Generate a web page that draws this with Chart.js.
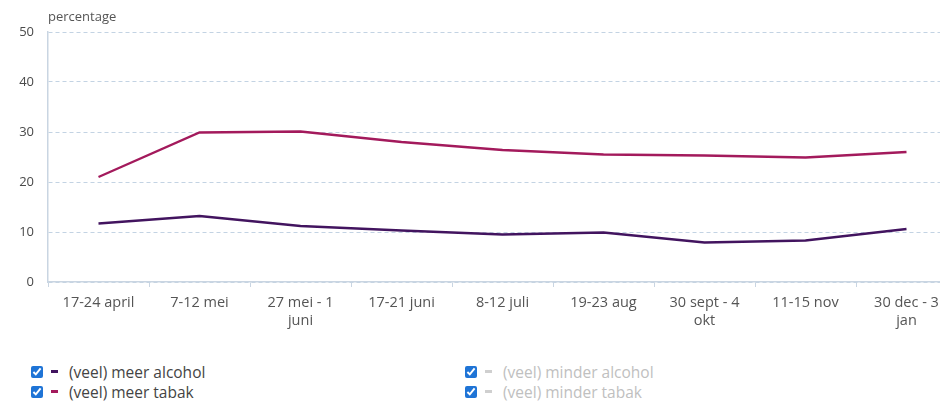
<!DOCTYPE html>
<html>
<head>
<meta charset="utf-8">
<script src="https://cdn.jsdelivr.net/npm/chart.js@4/dist/chart.umd.min.js"></script>
<style>
    html, body { margin: 0; padding: 0; background: #fff; overflow: hidden; width: 940px; height: 405px; }
    body { font-family: "Open Sans", "Noto Sans", sans-serif; position: relative; }
    #wrap { position: absolute; left: 0; top: 0; width: 960px; height: 340px; }
    #ytitle { position: absolute; left: 48px; top: 7px; font-size: 13px; color: #555; }
    #legend { position: absolute; left: 31px; top: 362px; width: 900px; font-size: 15.5px; }
    .item { position: absolute; display: flex; align-items: center; white-space: nowrap; height: 19px; }
    .item input { width: 12px; height: 12px; margin: 0 8px 0 0; accent-color: #1f74d6; }
    .item .dash { display: inline-block; width: 7px; height: 2.5px; margin-right: 11px; }
</style>
</head>
<body>
<div id="wrap"><canvas id="lineChart"></canvas></div>
<div id="ytitle">percentage</div>
<div id="legend"></div>
<script>
    var periods = [
        "17-24 april", "7-12 mei", ["27 mei - 1", "juni"], "17-21 juni", "8-12 juli",
        "19-23 aug", ["30 sept - 4", "okt"], "11-15 nov", ["30 dec - 3", "jan"]
    ];
    var meerAlcohol = [11.7, 13.2, 11.2, 10.3, 9.5, 9.9, 7.9, 8.3, 10.6];
    var meerTabak = [21.0, 29.9, 30.1, 28.0, 26.4, 25.5, 25.3, 24.9, 26.0];
    var yTicks = [0, 10, 20, 30, 40, 50];

    var seriesNames = ["(veel) meer alcohol", "(veel) meer tabak", "(veel) minder alcohol", "(veel) minder tabak"];
    var seriesColors = ["#42145f", "#a31a5c", "#cfcfcf", "#cfcfcf"];
    var seriesShown = [true, true, false, false];

    var datasets = [
        { label: seriesNames[0], data: meerAlcohol, borderColor: seriesColors[0] },
        { label: seriesNames[1], data: meerTabak, borderColor: seriesColors[1] }
    ].map(function (ds) {
        ds.borderWidth = 2.3;
        ds.pointRadius = 0;
        ds.tension = 0;
        ds.fill = false;
        return ds;
    });

    new Chart(document.getElementById("lineChart").getContext("2d"), {
        type: "line",
        data: { labels: periods, datasets: datasets },
        options: {
            responsive: true,
            maintainAspectRatio: false,
            animation: false,
            layout: { padding: { top: 32, right: 3, left: 0, bottom: 0 } },
            plugins: { legend: { display: false }, tooltip: { enabled: false } },
            scales: {
                x: {
                    offset: true,
                    afterFit: function (scale) { scale.height = 58; },
                    grid: { drawOnChartArea: false, drawTicks: true, tickLength: 5, color: "#c9d5e2", offset: true },
                    border: { display: true, color: "#c9d5e2", width: 1.5 },
                    ticks: { color: "#555", font: { family: "Open Sans", size: 14.5, lineHeight: 1.25 }, padding: 7, maxRotation: 0, autoSkip: false }
                },
                y: {
                    min: 0,
                    max: 50,
                    afterFit: function (scale) { scale.width = 48; },
                    afterBuildTicks: function (scale) {
                        scale.ticks = yTicks.map(function (v) { return { value: v }; });
                    },
                    grid: { color: "#c3d3e3", drawTicks: false },
                    border: { display: true, color: "#c9d5e2", width: 1.5, dash: [4, 3] },
                    ticks: { color: "#4a4a4a", font: { family: "Open Sans", size: 13 }, padding: 14 }
                }
            }
        }
    });

    var legend = document.getElementById("legend");
    seriesNames.forEach(function (name, i) {
        var item = document.createElement("div");
        item.className = "item";
        item.style.left = (i < 2 ? 0 : 434) + "px";
        item.style.top = (i % 2 === 0 ? 0 : 20) + "px";
        item.style.color = seriesShown[i] ? "#444" : "#c0c0c0";
        item.innerHTML = '<input type="checkbox" checked><span class="dash" style="background:' +
            seriesColors[i] + '"></span>' + name;
        legend.appendChild(item);
    });
</script>
</body>
</html>
